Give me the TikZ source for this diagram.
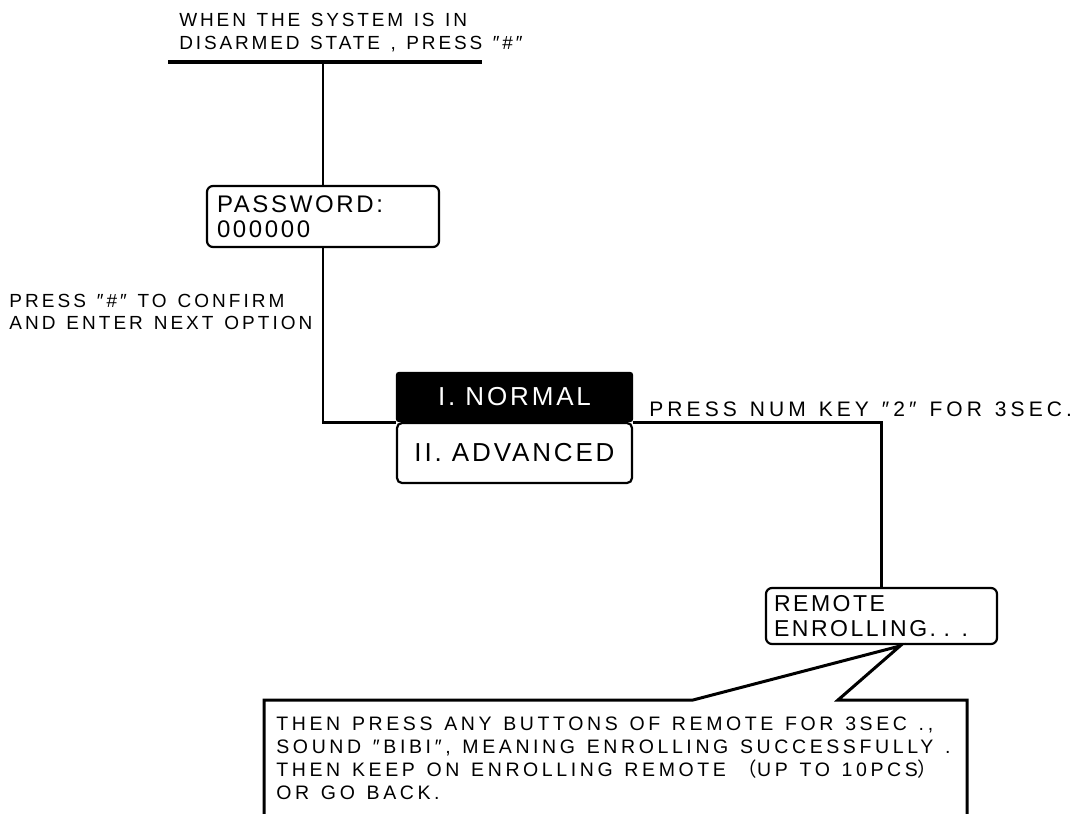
\documentclass[tikz,border=0pt]{standalone}
\usepackage{fontspec}
\setmainfont{Liberation Sans}
\newfontfamily\widefont[LetterSpace=15,WordSpace=1.3]{Liberation Sans}
\newfontfamily\sidefont[LetterSpace=16,WordSpace=1.3]{Liberation Sans}
\newfontfamily\keyfont[LetterSpace=19.5,WordSpace=1.3]{Liberation Sans}
\newfontfamily\notefont[LetterSpace=18.5,WordSpace=1.3]{Liberation Sans}
\newfontfamily\boxfont[LetterSpace=11]{Liberation Sans}
\newfontfamily\cjk{Noto Sans CJK SC}
\usepackage{tikz}
\usetikzlibrary{positioning}

\begin{document}
\begin{tikzpicture}[
    x=1pt, y=-1pt,
    line width=2.8pt,
    label/.style={
        font=\widefont\fontsize{19}{22}\selectfont,
        align=left,
        inner sep=0pt,
        anchor=north west
    },
    screen/.style={
        rectangle,
        draw,
        line width=2.2pt,
        rounded corners=6pt,
        align=left,
        font=\boxfont\fontsize{24}{25}\selectfont,
        inner xsep=10pt,
        inner ysep=0pt
    },
    menu/.style={
        rectangle,
        draw,
        line width=2.2pt,
        rounded corners=5pt,
        align=center,
        font=\boxfont\fontsize{26}{28}\selectfont,
        minimum width=235pt,
        inner sep=0pt
    }
]
    \useasboundingbox (0,0) rectangle (1080,814);

    % Entry text and bar
    \node [label, font=\widefont\fontsize{19}{23}\selectfont] (intro) at (178,12)
        {WHEN THE SYSTEM IS IN\\DISARMED STATE , PRESS ″\#″};
    \coordinate (barL) at (168,62);
    \coordinate (barR) at (482,62);
    \coordinate (barM) at (323,62);
    \draw [line width=3.2pt] (barL) -- (barR);

    % Screens
    \node [screen, text width=212pt, minimum height=61pt] (pwd) at (323,216.5)
        {PASSWORD:\\000000};
    \node [menu, fill=black, text=white, minimum height=48pt, rounded corners=2pt] (normal) at (514.5,397)
        {I. NORMAL};
    \node [menu, minimum height=60pt] (advanced) at (514.5,453)
        {II. ADVANCED};
    \node [screen, text width=215pt, minimum height=56pt, inner xsep=8pt,
           font=\boxfont\fontsize{23}{25}\selectfont] (remote) at (881.5,616)
        {REMOTE\\ENROLLING. . .};

    % Labels
    \node [label, font=\sidefont\fontsize{19}{22}\selectfont] (confirmtxt) at (8,293)
        {PRESS ″\#″ TO CONFIRM\\AND ENTER NEXT OPTION};
    \node [label, font=\keyfont\fontsize{21}{22}\selectfont] (keytxt) at (648,400)
        {PRESS NUM KEY ″2″ FOR 3SEC.};

    % Connections
    \draw (barM) -- (pwd.north);
    \draw (pwd.south) |- (normal.south west);
    \draw (normal.south east) -| (remote.north);

    % Callout
    \coordinate (tip) at (900,646);
    \draw [line width=3pt, line join=miter]
        (264,816) -- (264,700) -- (693,700) -- (tip) -- (838,700) -- (967,700) -- (967,816);
    \node [label, font=\notefont\fontsize{19.5}{23.3}\selectfont] (note) at (275,715)
        {THEN PRESS ANY BUTTONS OF REMOTE FOR 3SEC .,\\
         SOUND ″BIBI″, MEANING ENROLLING SUCCESSFULLY .\\
         THEN KEEP ON ENROLLING REMOTE {\cjk （}UP TO 10PCS{\cjk ）}\\
         OR GO BACK.};
\end{tikzpicture}
\end{document}
